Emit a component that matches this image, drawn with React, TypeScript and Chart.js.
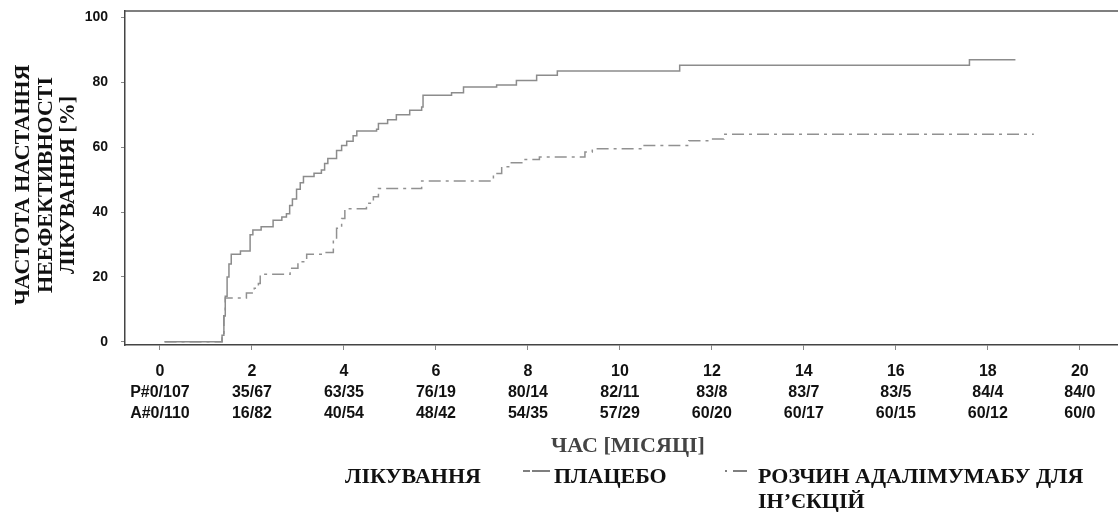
import React, { useEffect, useRef } from "react";
import { Chart, registerables } from "chart.js";

Chart.register(...registerables);

// ---- data ----
const tickMonths = [0, 2, 4, 6, 8, 10, 12, 14, 16, 18, 20];
const placeboAtRisk = ["P#0/107", "35/67", "63/35", "76/19", "80/14", "82/11", "83/8", "83/7", "83/5", "84/4", "84/0"];
const adalimumabAtRisk = ["A#0/110", "16/82", "40/54", "48/42", "54/35", "57/29", "60/20", "60/17", "60/15", "60/12", "60/0"];
const yTicks = [0, 20, 40, 60, 80, 100];

const placeboMonths = [0.1, 1.35, 1.39, 1.42, 1.46, 1.5, 1.55, 1.75, 1.96, 2.02, 2.2, 2.46, 2.65, 2.75, 2.82, 2.88, 2.97, 3.05, 3.12, 3.35, 3.51, 3.58, 3.65, 3.84, 3.95, 4.06, 4.2, 4.28, 4.71, 4.75, 4.95, 5.14, 5.43, 5.69, 5.72, 6.34, 6.6, 7.32, 7.75, 8.19, 8.64, 11.3, 17.6, 18.6];
const placeboRate = [0, 2, 8, 14, 20, 24, 27, 28, 33, 34.5, 35.5, 37.5, 38.5, 39.5, 42, 44, 47, 49, 51, 52, 53, 55, 56.5, 59, 60.5, 61.8, 63.5, 65, 65.5, 67.3, 68.5, 70, 71.4, 72.4, 76, 76.8, 78.6, 79.2, 80.6, 82.2, 83.5, 85.3, 87, 87];

const adaMonths = [0.1, 1.35, 1.39, 1.42, 1.88, 2.05, 2.14, 2.18, 2.83, 3.0, 3.19, 3.55, 3.77, 3.84, 3.95, 4.02, 4.49, 4.64, 4.75, 5.69, 7.25, 7.43, 7.61, 7.9, 8.25, 9.24, 9.4, 10.5, 11.5, 11.96, 12.26, 19.0];
const adaRate = [0, 2, 8, 13.5, 15, 16.5, 18, 20.8, 22.7, 24.7, 27, 27.5, 31.4, 35, 38, 41, 42.7, 44.7, 47.3, 49.6, 51.9, 54, 55.2, 56.2, 57, 58.5, 59.5, 60.5, 62, 62.5, 64, 64];

const yTitleLines = ["ЧАСТОТА НАСТАННЯ", "НЕЕФЕКТИВНОСТІ", "ЛІКУВАННЯ [%]"];
const xTitle = "ЧАС [МІСЯЦІ]";
const legendTitle = "ЛІКУВАННЯ";
const placeboName = "ПЛАЦЕБО";
const adalimumabName = ["РОЗЧИН АДАЛІМУМАБУ ДЛЯ", "ІН’ЄКЦІЙ"];

const SERIF = '"Liberation Serif", "Times New Roman", serif';
const SANS = '"Liberation Sans", Arial, sans-serif';

const PLACEBO_COLOR = "#8c8c8c";
const ADA_COLOR = "#919191";
const ADA_DASH = [12, 5, 3, 5];

const textPlugin = {
  id: "textPlugin",
  afterDraw(chart: any) {
    const ctx = chart.ctx as CanvasRenderingContext2D;
    const a = chart.chartArea;
    ctx.save();
    // top frame line
    ctx.strokeStyle = "#555";
    ctx.lineWidth = 1.5;
    ctx.beginPath();
    ctx.moveTo(a.left, a.top);
    ctx.lineTo(a.right, a.top);
    ctx.stroke();

    // y title
    ctx.fillStyle = "#111";
    ctx.font = `bold 22px ${SERIF}`;
    ctx.textAlign = "center";
    ctx.textBaseline = "middle";
    const cy = 185;
    const xs = [23, 46, 68];
    yTitleLines.forEach((t, i) => {
      ctx.save();
      ctx.translate(xs[i], cy);
      ctx.rotate(-Math.PI / 2);
      ctx.fillText(t, 0, 0);
      ctx.restore();
    });

    // x title
    ctx.fillStyle = "#444";
    ctx.font = `bold 22px ${SERIF}`;
    ctx.textAlign = "center";
    ctx.fillText(xTitle, 628, 446);

    // legend
    const ly = 477;
    ctx.fillStyle = "#111";
    ctx.textAlign = "left";
    ctx.font = `bold 22px ${SERIF}`;
    ctx.fillText(legendTitle, 345, ly);
    ctx.fillText(placeboName, 554, ly);
    ctx.fillText(adalimumabName[0], 758, ly);
    ctx.fillText(adalimumabName[1], 758, ly + 25);

    // legend samples
    ctx.lineWidth = 1.5;
    ctx.strokeStyle = "#555";
    ctx.setLineDash([7, 2, 16, 0]);
    ctx.beginPath();
    ctx.moveTo(523, ly - 6);
    ctx.lineTo(550, ly - 6);
    ctx.stroke();
    ctx.setLineDash([2, 6, 12, 0]);
    ctx.beginPath();
    ctx.moveTo(725, ly - 6);
    ctx.lineTo(748, ly - 6);
    ctx.stroke();
    ctx.restore();
  },
};

export default function App() {
  const ref = useRef<HTMLCanvasElement | null>(null);

  useEffect(() => {
    if (!ref.current) return;
    const chart = new Chart(ref.current, {
      type: "line",
      data: {
        datasets: [
          {
            label: placeboName,
            data: placeboMonths.map((m, i) => ({ x: m, y: placeboRate[i] })),
            borderColor: PLACEBO_COLOR,
            borderWidth: 1.5,
            pointRadius: 0,
            stepped: "before",
            fill: false,
          },
          {
            label: adalimumabName.join(" "),
            data: adaMonths.map((m, i) => ({ x: m, y: adaRate[i] })),
            borderColor: ADA_COLOR,
            borderWidth: 1.5,
            borderDash: ADA_DASH,
            pointRadius: 0,
            stepped: "before",
            fill: false,
          },
        ],
      },
      options: {
        responsive: false,
        animation: false,
        layout: { padding: { top: 11, right: 0, bottom: 0, left: 0 } },
        plugins: {
          legend: { display: false },
          tooltip: { enabled: false },
        },
        scales: {
          x: {
            type: "linear",
            min: -0.76,
            max: 20.83,
            afterBuildTicks: (s: any) => {
              s.ticks = tickMonths.map((v) => ({ value: v }));
            },
            afterFit: (s: any) => {
              s.height = 167;
              s.paddingLeft = 0;
              s.paddingRight = 0;
            },
            ticks: {
              autoSkip: false,
              maxRotation: 0,
              padding: 11.5,
              color: "#111",
              font: { family: SANS, weight: "bold", size: 16, lineHeight: 1.3125 },
              callback: (_v: any, i: number) => [String(tickMonths[i]), placeboAtRisk[i], adalimumabAtRisk[i]],
            },
            grid: { drawOnChartArea: false, tickLength: 5, color: "#888" },
            border: { display: true, color: "#444", width: 1.5 },
          },
          y: {
            type: "linear",
            min: -1,
            max: 102,
            afterBuildTicks: (s: any) => {
              s.ticks = yTicks.map((v) => ({ value: v }));
            },
            afterFit: (s: any) => {
              s.width = 125;
              s.paddingTop = 0;
              s.paddingBottom = 0;
            },
            ticks: {
              padding: 13,
              color: "#111",
              font: { family: SANS, weight: "bold", size: 14 },
            },
            grid: { drawOnChartArea: false, tickLength: 4, color: "#888" },
            border: { display: true, color: "#444", width: 1.5 },
          },
        },
      },
      plugins: [textPlugin],
    } as any);
    return () => chart.destroy();
  }, []);

  return (
    <div style={{ position: "fixed", left: 0, top: 0, width: 1118, height: 512, background: "#fff" }}>
      <canvas ref={ref} width={1118} height={512} style={{ width: 1118, height: 512, display: "block" }} />
    </div>
  );
}
